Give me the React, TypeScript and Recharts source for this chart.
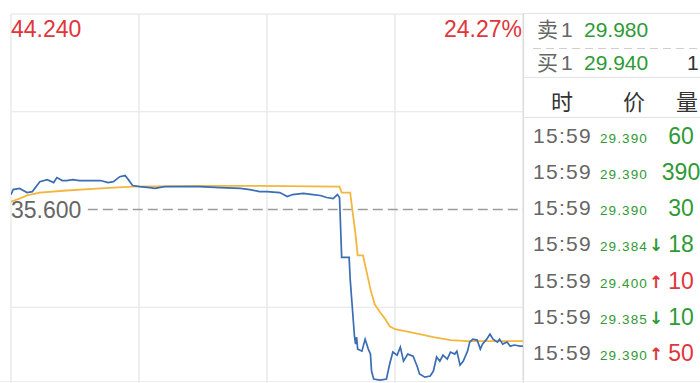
import React from 'react';
import { LineChart, Line, XAxis, YAxis, ReferenceLine } from 'recharts';

// ---- intraday data (minutes since open, 240 = close) ----
const priceTimes = [0, 1, 4, 7.5, 10, 13.5, 17, 20, 21.5, 24, 26, 29, 32, 37, 42, 45.5, 48, 51, 53.5, 55, 57, 60.5, 65, 67.5, 72, 79, 88.5, 98, 107.5, 112, 116.5, 120, 126, 129.5, 132, 137, 141.5, 145, 148, 151, 153, 154, 155, 158.5, 159, 161, 161.5, 162, 162.5, 164.5, 166, 167.5, 168.5, 169, 170, 173, 176, 177.5, 179, 181, 182.5, 184, 186, 188.5, 190.5, 191.5, 194, 196.5, 198, 199.5, 201, 202.5, 204.5, 206, 208, 209, 210.5, 212, 214, 215, 216.5, 218.5, 220, 221, 223, 224.5, 226, 228, 229, 230.5, 232.5, 234, 236, 238.5, 240];
const priceValues = [36.26, 36.48, 36.53, 36.35, 36.39, 36.83, 36.92, 36.79, 37.01, 36.88, 36.88, 36.92, 36.88, 36.88, 36.88, 36.79, 36.83, 37.05, 37.10, 36.92, 36.66, 36.61, 36.57, 36.53, 36.61, 36.61, 36.61, 36.57, 36.53, 36.48, 36.39, 36.39, 36.35, 36.17, 36.26, 36.31, 36.26, 36.22, 36.13, 36.08, 36.26, 36.13, 33.48, 33.48, 32.51, 30.00, 29.65, 29.96, 29.43, 29.34, 29.87, 29.43, 29.21, 28.46, 28.11, 28.06, 28.11, 28.77, 29.30, 29.16, 29.52, 28.90, 29.21, 29.12, 28.64, 28.33, 28.19, 28.24, 28.46, 29.08, 28.90, 29.16, 28.99, 29.30, 29.21, 29.34, 28.72, 28.90, 29.34, 29.74, 29.87, 29.83, 29.43, 29.65, 29.87, 30.09, 29.87, 29.74, 29.87, 29.65, 29.74, 29.56, 29.61, 29.56, 29.56];

const avgTimes = [0, 4, 7.5, 13.5, 26, 42, 57, 88.5, 116.5, 154, 155, 159, 160, 161.5, 162.5, 165, 167.5, 168.5, 170.5, 173, 175.5, 177.5, 180, 187, 191.5, 198, 206, 214, 229, 240];
const avgValues = [35.95, 36.08, 36.22, 36.35, 36.44, 36.53, 36.61, 36.64, 36.64, 36.61, 36.35, 36.35, 35.60, 34.50, 33.57, 33.57, 32.51, 32.07, 31.41, 31.06, 30.75, 30.44, 30.31, 30.18, 30.09, 29.96, 29.83, 29.78, 29.78, 29.78];

const prevClose = 35.6;
const topPrice = 44.24;
const gridTimes = [0, 60, 120, 180, 240];

// ---- order book / trades ----
const bookLabels = ['卖1', '买1'];
const bookPrices = ['29.980', '29.940'];
const bookVolumes = ['', '1'];
const tradeHeaders = ['时', '价', '量'];
const tradeTimes = ['15:59', '15:59', '15:59', '15:59', '15:59', '15:59', '15:59'];
const tradePrices = ['29.390', '29.390', '29.390', '29.384', '29.400', '29.385', '29.390'];
const tradeVolumes = ['60', '390', '30', '18', '10', '10', '50'];
const tradeDirs = ['', '', '', 'down', 'up', 'down', 'up'];

const RED = '#e0353b';
const GREEN = '#2f9a35';
const BLUE = '#3a6db4';
const ORANGE = '#f3b63e';
const GRID = '#e4e4e4';
const FONT = "'Liberation Sans', Arial, 'Noto Sans CJK SC', sans-serif";

const priceData = priceTimes.map((t, i) => ({ t, v: priceValues[i] }));
const avgData = avgTimes.map((t, i) => ({ t, v: avgValues[i] }));
const span = topPrice - prevClose;
const minPrice = prevClose - span;
const gridPrices = [topPrice, prevClose + span / 2, prevClose - span / 2];
const topPct = ((topPrice / prevClose - 1) * 100).toFixed(2) + '%';

export default function App() {
  return (
    <div style={{ position: 'absolute', left: 0, top: 0, width: 700, height: 383, overflow: 'hidden', background: '#fff', fontFamily: FONT }}>
      <div style={{ position: 'absolute', left: 150, top: 176, fontSize: 46, fontWeight: 700, color: 'rgba(0,0,0,0.022)', fontFamily: "'Noto Sans CJK SC', sans-serif", letterSpacing: 2, whiteSpace: 'nowrap' }}>东方财富</div>
      <div style={{ position: 'absolute', left: 0, top: 0 }}>
        <LineChart width={524} height={406} margin={{ top: 14, left: 11, right: 1, bottom: 1 }}>
          <XAxis type="number" dataKey="t" domain={[0, 240]} hide allowDataOverflow />
          <YAxis type="number" dataKey="v" domain={[minPrice, topPrice]} hide allowDataOverflow />
          {gridTimes.map((t) => (
            <ReferenceLine key={'x' + t} x={t} stroke={GRID} strokeWidth={1.2} />
          ))}
          {gridPrices.map((p) => (
            <ReferenceLine key={'y' + p} y={p} stroke={GRID} strokeWidth={1.2} />
          ))}
          <ReferenceLine segment={[{ x: 36, y: prevClose }, { x: 240, y: prevClose }]} stroke="#9c9c9c" strokeWidth={1.5} strokeDasharray="10 5" />
          <Line data={avgData} dataKey="v" type="linear" stroke={ORANGE} strokeWidth={1.8} dot={false} isAnimationActive={false} />
          <Line data={priceData} dataKey="v" type="linear" stroke={BLUE} strokeWidth={1.7} dot={false} isAnimationActive={false} />
        </LineChart>
      </div>
      <svg width={700} height={383} style={{ position: 'absolute', left: 0, top: 0, pointerEvents: 'none', fontFamily: FONT }}>
        <line x1={523} y1={13.5} x2={700} y2={13.5} stroke={GRID} strokeWidth={1.2} />
        <line x1={523.5} y1={13} x2={523.5} y2={383} stroke="#dcdcdc" strokeWidth={1.2} />
        <line x1={0} y1={381.5} x2={700} y2={381.5} stroke="#eeeeee" strokeWidth={1} />
        <text x={11} y={37} fontSize={23} fill={RED}>{topPrice.toFixed(3)}</text>
        <text x={522} y={37} fontSize={23} fill={RED} textAnchor="end">{topPct}</text>
        <text x={11} y={218} fontSize={23} fill="#666">{prevClose.toFixed(3)}</text>

        {bookLabels.map((lab, i) => (
          <g key={lab}>
            <text x={537} y={37 + i * 33} fontSize={21} fill="#666" letterSpacing={3}>{lab}</text>
            <text x={584} y={37 + i * 33} fontSize={21} fill={GREEN}>{bookPrices[i]}</text>
            <text x={687} y={37 + i * 33} fontSize={21} fill="#333">{bookVolumes[i]}</text>
          </g>
        ))}
        <line x1={533} y1={48.5} x2={700} y2={48.5} stroke="#cfcfcf" strokeWidth={1.2} strokeDasharray="8 5" />
        <line x1={523} y1={77.5} x2={700} y2={77.5} stroke={GRID} strokeWidth={1.2} />
        <text x={562} y={110} fontSize={22} fill="#333" textAnchor="middle">{tradeHeaders[0]}</text>
        <text x={634} y={110} fontSize={22} fill="#333" textAnchor="middle">{tradeHeaders[1]}</text>
        <text x={687} y={110} fontSize={22} fill="#333" textAnchor="middle">{tradeHeaders[2]}</text>
        <line x1={523} y1={117.5} x2={700} y2={117.5} stroke={GRID} strokeWidth={1.2} />

        {tradeTimes.map((tm, i) => {
          const y = 142.5 + i * 36.3;
          const dir = tradeDirs[i];
          const col = dir === 'up' ? RED : GREEN;
          return (
            <g key={i}>
              <text x={533} y={y} fontSize={21} fill="#666" letterSpacing={1.3}>{tm}</text>
              <text x={600} y={y} fontSize={13.5} fill={GREEN} letterSpacing={1.1}>{tradePrices[i]}</text>
              {dir && (
                <text x={649} y={y} fontSize={17} fontWeight={700} fill={col} fontFamily="'DejaVu Sans', sans-serif">{dir === 'up' ? '↑' : '↓'}</text>
              )}
              <text x={681} y={y + 1} fontSize={23} fill={col} textAnchor="middle">{tradeVolumes[i]}</text>
            </g>
          );
        })}
      </svg>
    </div>
  );
}
